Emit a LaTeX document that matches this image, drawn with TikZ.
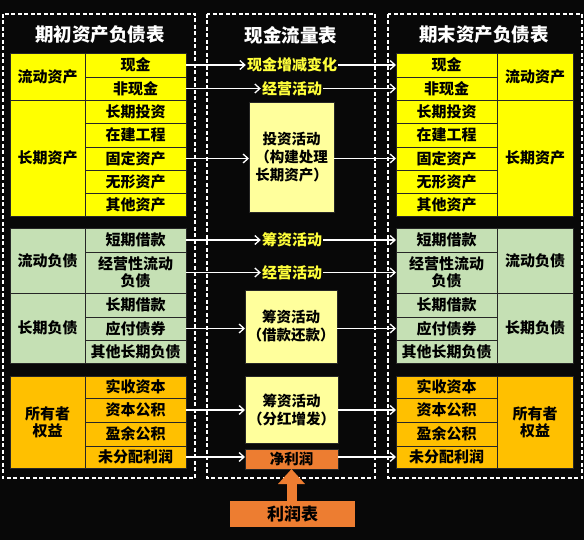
\documentclass[tikz,border=0pt]{standalone}
\usepackage{fontspec}
\setmainfont{Noto Sans CJK SC}
\usetikzlibrary{arrows.meta}
\definecolor{cY}{HTML}{FFFF00}
\definecolor{cG}{HTML}{C5E0B4}
\definecolor{cO}{HTML}{FFC000}
\definecolor{cLY}{HTML}{FFFF9C}
\definecolor{cNP}{HTML}{ED7D31}
\definecolor{cTxtY}{HTML}{FFFF3A}
\definecolor{cBG}{HTML}{080808}
\newcommand\mkcell[7]{\node[cellst, fill=#6, minimum width={(#4-#2)*1pt}, minimum height={(#5-#3)*1pt}] (#1) at ({(#2+#4)/2},{(#3+#5)/2}) {#7};}
\begin{document}
\begin{tikzpicture}[x=1pt,y=-1pt,
  cellst/.style={draw=black!85, line width=0.8pt, inner sep=0pt, outer sep=0pt, align=center, text=black, font=\bfseries\fontsize{15}{17}\selectfont},
  boxst/.style={cellst, font=\bfseries\fontsize{14.5}{18}\selectfont},
  titlest/.style={text=white, font=\bfseries\fontsize{18.5}{20}\selectfont, inner sep=0pt},
  midlab/.style={text=cTxtY, font=\bfseries\fontsize{15}{17}\selectfont, inner sep=1pt},
  dashbox/.style={draw=white, line width=1.3pt, dash pattern=on 4pt off 2.5pt},
  arr/.style={draw=white, line width=1.3pt, -{Straight Barb[length=5pt,width=9pt]}},
  bigarr/.style={draw=cNP, line width=10pt, -{Triangle[length=15pt,width=26pt]}}
]
\fill[cBG] (0,0) rectangle (584,540);
\useasboundingbox (0,0) rectangle (584,540);

% dashed frames
\draw[dashbox] (3,14) rectangle (195,478);
\draw[dashbox] (207,14) rectangle (375,478);
\draw[dashbox] (388,14) rectangle (582,478);

% titles
\node[titlest] (T1) at (100,35) {期初资产负债表};
\node[titlest] (T2) at (291,35) {现金流量表};
\node[titlest] (T3) at (484,35) {期末资产负债表};

% left table
\mkcell{LA}{10}{53}{85}{100}{cY}{流动资产}
\mkcell{LB}{10}{100}{85}{216}{cY}{长期资产}
\mkcell{L1}{85}{53}{186}{77}{cY}{现金}
\mkcell{L2}{85}{77}{186}{100}{cY}{非现金}
\mkcell{L3}{85}{100}{186}{123}{cY}{长期投资}
\mkcell{L4}{85}{123}{186}{147}{cY}{在建工程}
\mkcell{L5}{85}{147}{186}{170}{cY}{固定资产}
\mkcell{L6}{85}{170}{186}{193}{cY}{无形资产}
\mkcell{L7}{85}{193}{186}{216}{cY}{其他资产}
\mkcell{LC}{10}{228}{85}{293}{cG}{流动负债}
\mkcell{LD}{10}{293}{85}{363}{cG}{长期负债}
\mkcell{L8}{85}{228}{186}{252}{cG}{短期借款}
\mkcell{L9}{85}{252}{186}{293}{cG}{经营性流动\\负债}
\mkcell{L10}{85}{293}{186}{317}{cG}{长期借款}
\mkcell{L11}{85}{317}{186}{340}{cG}{应付债券}
\mkcell{L12}{85}{340}{186}{363}{cG}{其他长期负债}
\mkcell{LE}{10}{376}{85}{468}{cO}{所有者\\权益}
\mkcell{L13}{85}{376}{186}{398}{cO}{实收资本}
\mkcell{L14}{85}{398}{186}{422}{cO}{资本公积}
\mkcell{L15}{85}{422}{186}{446}{cO}{盈余公积}
\mkcell{L16}{85}{446}{186}{468}{cO}{未分配利润}

% right table
\mkcell{RA}{497}{53}{573}{100}{cY}{流动资产}
\mkcell{RB}{497}{100}{573}{216}{cY}{长期资产}
\mkcell{R1}{396}{53}{497}{77}{cY}{现金}
\mkcell{R2}{396}{77}{497}{100}{cY}{非现金}
\mkcell{R3}{396}{100}{497}{123}{cY}{长期投资}
\mkcell{R4}{396}{123}{497}{147}{cY}{在建工程}
\mkcell{R5}{396}{147}{497}{170}{cY}{固定资产}
\mkcell{R6}{396}{170}{497}{193}{cY}{无形资产}
\mkcell{R7}{396}{193}{497}{216}{cY}{其他资产}
\mkcell{RC}{497}{228}{573}{293}{cG}{流动负债}
\mkcell{RD}{497}{293}{573}{363}{cG}{长期负债}
\mkcell{R8}{396}{228}{497}{252}{cG}{短期借款}
\mkcell{R9}{396}{252}{497}{293}{cG}{经营性流动\\负债}
\mkcell{R10}{396}{293}{497}{317}{cG}{长期借款}
\mkcell{R11}{396}{317}{497}{340}{cG}{应付债券}
\mkcell{R12}{396}{340}{497}{363}{cG}{其他长期负债}
\mkcell{RE}{497}{376}{573}{468}{cO}{所有者\\权益}
\mkcell{R13}{396}{376}{497}{398}{cO}{实收资本}
\mkcell{R14}{396}{398}{497}{422}{cO}{资本公积}
\mkcell{R15}{396}{422}{497}{446}{cO}{盈余公积}
\mkcell{R16}{396}{446}{497}{468}{cO}{未分配利润}

% middle
\node[midlab] (M1) at (292,65) {现金增减变化};
\node[midlab] (M2) at (292,88.5) {经营活动};
\node[boxst, fill=cLY, minimum width=85pt, minimum height=110pt] (M3) at (291.5,157) {投资活动\\（构建处理\\长期资产）};
\node[midlab] (M4) at (292,240) {筹资活动};
\node[midlab] (M5) at (292,272.5) {经营活动};
\node[boxst, fill=cLY, minimum width=92pt, minimum height=73pt] (M6) at (291,326.5) {筹资活动\\（借款还款）};
\node[boxst, fill=cLY, minimum width=93pt, minimum height=67pt] (M7) at (291.5,409.5) {筹资活动\\（分红增发）};
\node[boxst, fill=cNP, minimum width=93pt, minimum height=20pt] (M8) at (291.5,459) {净利润};
\node[cellst, fill=cNP, draw=none, minimum width=125pt, minimum height=26pt, font=\bfseries\fontsize{17}{18}\selectfont] (M9) at (292.5,514) {利润表};

% connectors
\draw[arr] (L1.east) -- (M1.west);
\draw[arr] (M1.east) -- (R1.west);
\draw[arr] (L2.east) -- (M2.west);
\draw[arr] (M2.east) -- (R2.west);
\draw[arr] (L5.east) -- (L5.east -| M3.west);
\draw[arr] (M3.east |- R5.west) -- (R5.west);
\draw[arr] (L8.east) -- (M4.west);
\draw[arr] (M4.east) -- (R8.west);
\draw[arr] (L9.east) -- (M5.west);
\draw[arr] (M5.east) -- (R9.west);
\draw[arr] (L11.east) -- (L11.east -| M6.west);
\draw[arr] (M6.east |- R11.west) -- (R11.west);
\draw[arr] (L14.east) -- (L14.east -| M7.west);
\draw[arr] (M7.east |- R14.west) -- (R14.west);
\draw[arr] (L16.east) -- (L16.east -| M8.west);
\draw[arr] (M8.east |- R16.west) -- (R16.west);
\draw[bigarr] (M9.north -| M8.south) -- (M8.south);
\end{tikzpicture}
\end{document}
